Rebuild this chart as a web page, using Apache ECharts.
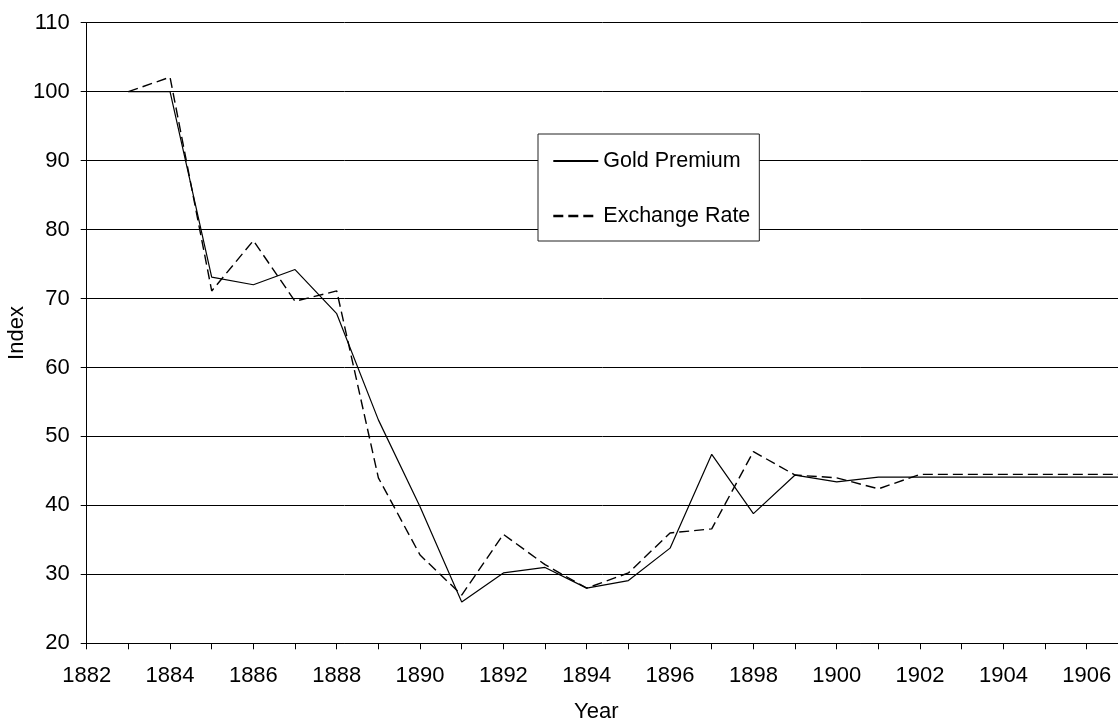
<!DOCTYPE html>
<html>
<head>
<meta charset="utf-8">
<script src="https://cdn.jsdelivr.net/npm/echarts@6/dist/echarts.min.js"></script>
<style>
  html, body { margin: 0; padding: 0; background: #fff; }
  #chart { width: 1118px; height: 721px; }
</style>
</head>
<body>
<div id="chart"></div>
<script>
const years = [1883, 1884, 1885, 1886, 1887, 1888, 1889, 1890, 1891, 1892, 1893, 1894, 1895, 1896, 1897, 1898, 1899, 1900, 1901, 1902, 1903, 1904, 1905, 1906, 1907];
const goldPremium = [100, 100, 73.1, 72.0, 74.2, 67.8, 52.4, 39.8, 26.0, 30.2, 31.0, 28.0, 29.1, 33.8, 47.4, 38.8, 44.4, 43.4, 44.1, 44.1, 44.1, 44.1, 44.1, 44.1, 44.1];
const exchangeRate = [100, 102.1, 71.1, 78.4, 69.6, 71.1, 44.0, 32.8, 27.0, 35.8, 31.4, 28.0, 30.2, 36.0, 36.6, 47.8, 44.4, 44.0, 42.4, 44.5, 44.5, 44.5, 44.5, 44.5, 44.5];
const seriesNames = ['Gold Premium', 'Exchange Rate'];
const xAxisName = 'Year';
const yAxisName = 'Index';

const FONT = '"Liberation Sans", Arial, sans-serif';
const FS = 22;
const chart = echarts.init(document.getElementById('chart'), null, { renderer: 'canvas' });

chart.setOption({
  animation: false,
  backgroundColor: '#fff',
  textStyle: { fontFamily: FONT, color: '#000' },
  grid: { left: 86.7, right: 0, top: 22.7, bottom: 77.7, containLabel: false, outerBoundsMode: 'none' },
  legend: {
    orient: 'vertical',
    left: 538,
    top: 134,
    padding: [16, 9, 14, 14],
    itemWidth: 45,
    itemHeight: 22,
    itemGap: 33,
    backgroundColor: '#fff',
    borderColor: '#222',
    borderWidth: 1,
    borderRadius: 0,
    itemStyle: { color: 'rgba(0,0,0,0)', borderWidth: 0, opacity: 0 },
    textStyle: { fontFamily: FONT, fontSize: 21.5, color: '#000' },
    data: [
      { name: seriesNames[0] },
      { name: seriesNames[1], lineStyle: { width: 2.6 } }
    ]
  },
  xAxis: {
    type: 'value',
    min: 1882,
    max: 1906.75,
    interval: 1,
    name: xAxisName,
    nameLocation: 'middle',
    nameGap: 58,
    nameMoveOverlap: false,
    nameTextStyle: { fontFamily: FONT, fontSize: FS, color: '#000', padding: [0, 12, 0, 0] },
    axisLine: { show: true, lineStyle: { color: '#000', width: 1 } },
    axisTick: { show: true, length: 6, inside: false, lineStyle: { color: '#000' } },
    axisLabel: {
      fontFamily: FONT, fontSize: FS, color: '#000', margin: 22,
      showMaxLabel: false,
      formatter: v => (Number.isInteger(v) && v % 2 === 0) ? String(v) : ''
    },
    splitLine: { show: false }
  },
  yAxis: {
    type: 'value',
    min: 20,
    max: 110,
    interval: 10,
    name: yAxisName,
    nameLocation: 'middle',
    nameGap: 59,
    nameMoveOverlap: false,
    nameRotate: 90,
    nameTextStyle: { fontFamily: FONT, fontSize: FS, color: '#000' },
    axisLine: { show: true, lineStyle: { color: '#000', width: 1 } },
    axisTick: { show: true, length: 6, inside: false, lineStyle: { color: '#000' } },
    axisLabel: { fontFamily: FONT, fontSize: FS, color: '#000', margin: 17 },
    splitLine: { show: true, lineStyle: { color: '#000', width: 1 } }
  },
  series: [
    {
      name: seriesNames[0],
      type: 'line',
      data: years.map((y, i) => [y, goldPremium[i]]),
      symbol: 'none',
      clip: true,
      lineStyle: { color: '#000', width: 1.2, type: 'solid' },
      itemStyle: { color: '#000' },
      z: 3
    },
    {
      name: seriesNames[1],
      type: 'line',
      data: years.map((y, i) => [y, exchangeRate[i]]),
      symbol: 'none',
      clip: true,
      lineStyle: { color: '#000', width: 1.4, type: [10, 5] },
      itemStyle: { color: '#000' },
      z: 4
    }
  ]
});
</script>
</body>
</html>
